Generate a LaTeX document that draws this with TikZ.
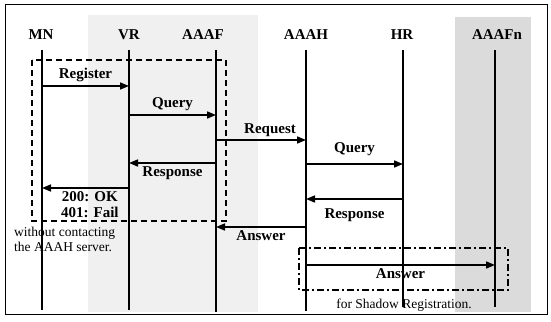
\documentclass[tikz,border=0pt]{standalone}
\usepackage{fontspec}
\setmainfont{Liberation Serif}
\usetikzlibrary{arrows.meta}
\begin{document}
\begin{tikzpicture}[x=1pt, y=-1pt,
    life/.style={line width=2.6pt},
    msg/.style={line width=1.6pt, -{Triangle[length=9pt,width=7pt]}},
    lbl/.style={font=\fontsize{15}{15.5}\selectfont\bfseries, inner sep=0pt},
    note/.style={font=\fontsize{13.5}{14.5}\selectfont, inner sep=0pt, align=left},
    dashbox/.style={line width=2.4pt, dash pattern=on 6pt off 4pt},
    dotbox/.style={line width=2pt, dash pattern=on 7pt off 3pt on 2pt off 3pt}]
    \useasboundingbox (0,0) rectangle (551,321);

    % scanned grey areas
    \fill[black!6] (88,15) rectangle (258,312);
    \fill[black!14] (455,17) rectangle (531,312);
    \draw[line width=0.8pt] (5,4) rectangle (547,314);

    \coordinate (MN) at (42, 50);    \coordinate (MNe) at (42, 310);
    \coordinate (VR) at (129, 50);   \coordinate (VRe) at (129, 310);
    \coordinate (AAAF) at (216, 50); \coordinate (AAAFe) at (216, 312);
    \coordinate (AAAH) at (306, 50); \coordinate (AAAHe) at (306, 311);
    \coordinate (HR) at (403, 50);   \coordinate (HRe) at (403, 307);
    \coordinate (AAAFn) at (495, 50); \coordinate (AAAFne) at (495, 307);

    \node[lbl] (MNl) at (41, 35) {MN};
    \node[lbl] (VRl) at (129, 35) {VR};
    \node[lbl] (AAAFl) at (203, 35) {AAAF};
    \node[lbl] (AAAHl) at (306, 35) {AAAH};
    \node[lbl] (HRl) at (402, 35) {HR};
    \node[lbl] (AAAFnl) at (497, 35) {AAAFn};

    \draw[dashbox] (32, 60) rectangle (226, 221);
    \draw[dotbox] (299, 248) rectangle (508, 290);

    \draw[life] (MN) -- (MNe);
    \draw[life] (VR) -- (VRe);
    \draw[life] (AAAF) -- (AAAFe);
    \draw[life] (AAAH) -- (AAAHe);
    \draw[life] (HR) -- (HRe);
    \draw[life] (AAAFn) -- (AAAFne);

    \draw[msg] (MN |- 0,86) -- (VR |- 0,86)
        node[lbl, midway, above=3pt] {Register};
    \draw[msg] (VR |- 0,115) -- (AAAF |- 0,115)
        node[lbl, midway, above=3pt] {Query};
    \draw[msg] (AAAF |- 0,140) -- (AAAH |- 0,140)
        node[lbl, pos=0.6, above=3pt] {Request};
    \draw[msg] (AAAH |- 0,164) -- (HR |- 0,164)
        node[lbl, midway, above=7pt] {Query};
    \draw[msg] (AAAF |- 0,163) -- (VR |- 0,163)
        node[lbl, midway, below=3pt] {Response};
    \draw[msg] (VR |- 0,188) -- (MN |- 0,188)
        node[lbl, pos=0.45, below=3pt, align=center] {200: OK\\401: Fail};
    \draw[msg] (HR |- 0,199) -- (AAAH |- 0,199)
        node[lbl, midway, below=9pt] {Response};
    \draw[msg] (AAAH |- 0,227) -- (AAAF |- 0,227)
        node[lbl, midway, below=3pt] {Answer};
    \draw[msg] (AAAH |- 0,265) -- (AAAFn |- 0,265)
        node[lbl, midway, below=3pt] {Answer};

    \node[note, anchor=north west] (without) at (14, 227) {without contacting\\the AAAH server.};
    \node[note] (shadow) at (404, 305) {for Shadow Registration.};
\end{tikzpicture}
\end{document}
